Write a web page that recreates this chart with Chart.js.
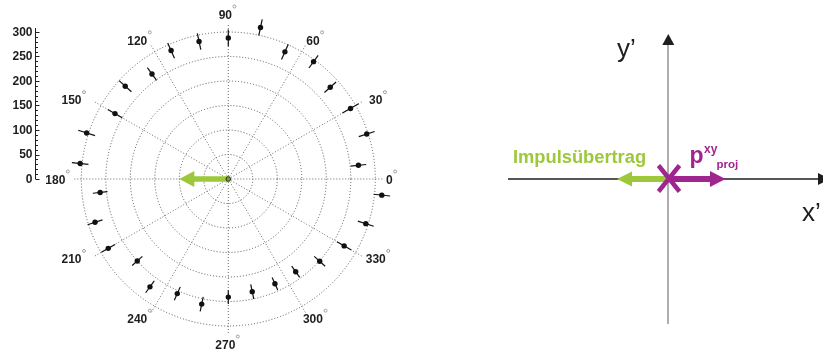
<!DOCTYPE html>
<html>
<head>
<meta charset="utf-8">
<script src="https://cdn.jsdelivr.net/npm/chart.js@4.4.1/dist/chart.umd.min.js"></script>
<style>
  html, body { margin: 0; padding: 0; background: #ffffff; }
  #wrap { position: relative; width: 823px; height: 351px; overflow: hidden; }
  #polar, #diagram { position: absolute; left: 0; top: 0; }
  #diagram { pointer-events: none; }
  #diagram text { font-family: "Liberation Sans", Arial, Helvetica, sans-serif; }
</style>
</head>
<body>
<div id="wrap">
  <canvas id="polar" width="823" height="351"></canvas>
  <svg id="diagram" width="823" height="351" viewBox="0 0 823 351" xmlns="http://www.w3.org/2000/svg">
    <!-- x' axis -->
    <line x1="508" y1="179" x2="819" y2="179" stroke="#1e1e1e" stroke-width="1.3"/>
    <polygon points="818,173 818,185 830,179" fill="#1e1e1e"/>
    <!-- y' axis -->
    <line x1="668" y1="44" x2="668" y2="324" stroke="#8c8c8c" stroke-width="1.4"/>
    <polygon points="668.3,34 662.3,45 674.3,45" fill="#1e1e1e"/>
    <text x="617" y="57" font-size="26" fill="#1e1e1e">y’</text>
    <text x="802" y="221" font-size="26" fill="#1e1e1e">x’</text>

    <!-- momentum transfer (green) -->
    <line x1="668" y1="179" x2="631" y2="179" stroke="#9cc83a" stroke-width="6"/>
    <polygon points="617,179 632,171.5 632,186.5" fill="#9cc83a"/>
    <!-- projected momentum (magenta) -->
    <line x1="668" y1="179" x2="711" y2="179" stroke="#a0268f" stroke-width="6"/>
    <polygon points="725.5,179 710,171 710,187" fill="#a0268f"/>
    <line x1="658.5" y1="165.5" x2="679.5" y2="191.5" stroke="#a0268f" stroke-width="4.5"/>
    <line x1="679.5" y1="165.5" x2="658.5" y2="191.5" stroke="#a0268f" stroke-width="4.5"/>

    <text x="513" y="163" font-size="18.3" font-weight="bold" fill="#9cc83a">Impulsübertrag</text>
    <text x="689.5" y="163" font-size="23" font-weight="bold" fill="#a0268f">p</text>
    <text x="704" y="152.5" font-size="12" font-weight="bold" fill="#a0268f">xy</text>
    <text x="716.5" y="168" font-size="11.5" font-weight="bold" fill="#a0268f">proj</text>
  </svg>
</div>
<script>
// Azimuthal distribution: bin centres (degrees), counts and statistical errors
const angles = [6, 18, 30, 42, 54, 66, 78, 90, 102, 114, 126, 138, 150, 162, 174,
                186, 198, 210, 222, 234, 246, 258, 270, 282, 294, 306, 318, 330, 342, 354];
const counts = [267, 297, 288, 280, 296, 284, 316, 288, 287, 287, 265, 283, 267, 304, 304,
                263, 286, 283, 250, 272, 256, 261, 241, 235, 234, 234, 251, 273, 295, 315];
const errors = [16, 17, 19, 16, 16, 17, 17, 17, 17, 17, 16, 17, 17, 18, 17,
                15, 16, 16, 14, 15, 15, 15, 14, 15, 14, 14, 15, 17, 17, 17];

// Polar grid: rings, spokes and the separate radial count axis
const ringValues = [50, 100, 150, 200, 250, 300];
const spokeAngles = [0, 30, 60, 90, 120, 150, 180, 210, 240, 270, 300, 330];
const radialTicks = [0, 50, 100, 150, 200, 250, 300];
const radialMinorStep = 10;

// Mean momentum transfer drawn as an arrow from the origin
const transferValue = 100;
const transferAngle = 180;

const DEG = Math.PI / 180;
const RMAX = 300;
const PX_PER_UNIT = 147 / RMAX;
const CX = 228.3, CY = 179;
const W = 823, H = 351;

const points = angles.map((a, i) => ({
  x: counts[i] * Math.cos(a * DEG),
  y: counts[i] * Math.sin(a * DEG)
}));

const polarFrame = {
  id: 'polarFrame',
  beforeDatasetsDraw(chart) {
    const { ctx, scales: { x, y } } = chart;
    const px = (r, a) => x.getPixelForValue(r * Math.cos(a * DEG));
    const py = (r, a) => y.getPixelForValue(r * Math.sin(a * DEG));
    const cx = x.getPixelForValue(0), cy = y.getPixelForValue(0);
    ctx.save();

    // dotted rings
    ctx.strokeStyle = '#555555';
    ctx.lineWidth = 1;
    ctx.setLineDash([1, 2]);
    ringValues.forEach(v => {
      const r = x.getPixelForValue(v) - cx;
      ctx.beginPath();
      ctx.arc(cx, cy, r, 0, 2 * Math.PI);
      ctx.stroke();
    });
    // dotted spokes, slightly beyond the outer ring
    ctx.strokeStyle = '#6a6a6a';
    spokeAngles.forEach(a => {
      ctx.beginPath();
      ctx.moveTo(cx, cy);
      ctx.lineTo(px(RMAX * 1.05, a), py(RMAX * 1.05, a));
      ctx.stroke();
    });
    ctx.setLineDash([]);

    // angle labels with a small degree ring
    ctx.font = 'bold 12px "Liberation Sans", Arial, sans-serif';
    ctx.fillStyle = '#1e1e1e';
    ctx.textAlign = 'center';
    ctx.textBaseline = 'middle';
    spokeAngles.forEach(a => {
      const c = Math.cos(a * DEG), s = Math.sin(a * DEG);
      const s2 = Math.abs(Math.sin(2 * a * DEG));
      const lx = cx + (167 + 10 * s2) * c - 3 - 3 * Math.pow(c, 4);
      const ly = cy - (s * (158.7 + 6.3 * Math.pow(s, 8)) - 1.5);
      const txt = String(a);
      ctx.fillText(txt, lx, ly);
      const w = ctx.measureText(txt).width;
      ctx.beginPath();
      ctx.strokeStyle = '#8a8a8a';
      ctx.lineWidth = 0.8;
      ctx.arc(lx + w / 2 + 2.5, ly - 9, 1.5, 0, 2 * Math.PI);
      ctx.stroke();
    });

    // radial count axis on the left
    const ax = 35.5;
    ctx.strokeStyle = '#1e1e1e';
    ctx.lineWidth = 1;
    ctx.beginPath();
    ctx.moveTo(ax, y.getPixelForValue(0));
    ctx.lineTo(ax, y.getPixelForValue(308));
    ctx.stroke();
    for (let v = 0; v <= RMAX; v += radialMinorStep) {
      const ty = Math.round(y.getPixelForValue(v)) + 0.5;
      const major = radialTicks.includes(v);
      ctx.beginPath();
      ctx.moveTo(ax, ty);
      ctx.lineTo(ax + (major ? 4 : 2.5), ty);
      ctx.stroke();
    }
    ctx.textAlign = 'right';
    radialTicks.forEach(v => {
      ctx.fillText(String(v), ax - 3, y.getPixelForValue(v) + 0.5);
    });

    // momentum-transfer arrow
    const tip = { x: px(transferValue, transferAngle), y: py(transferValue, transferAngle) };
    const headLen = 15, headHalf = 8, shaft = 5.5;
    const len = Math.hypot(tip.x - cx, tip.y - cy);
    const ux = (tip.x - cx) / len, uy = (tip.y - cy) / len;
    const bx = tip.x - ux * headLen, by = tip.y - uy * headLen;
    ctx.strokeStyle = '#9cc83a';
    ctx.lineWidth = shaft;
    ctx.beginPath();
    ctx.moveTo(cx, cy);
    ctx.lineTo(bx + ux, by + uy);
    ctx.stroke();
    ctx.fillStyle = '#9cc83a';
    ctx.beginPath();
    ctx.moveTo(tip.x, tip.y);
    ctx.lineTo(bx - uy * headHalf, by + ux * headHalf);
    ctx.lineTo(bx + uy * headHalf, by - ux * headHalf);
    ctx.closePath();
    ctx.fill();
    // origin marker
    ctx.beginPath();
    ctx.arc(cx, cy, 2.3, 0, 2 * Math.PI);
    ctx.fillStyle = '#7fa22e';
    ctx.fill();
    ctx.strokeStyle = '#1e1e1e';
    ctx.lineWidth = 0.9;
    ctx.stroke();

    // radial error bars
    ctx.strokeStyle = '#111111';
    ctx.lineWidth = 1.2;
    angles.forEach((a, i) => {
      const r0 = counts[i] - errors[i], r1 = counts[i] + errors[i];
      ctx.beginPath();
      ctx.moveTo(px(r0, a), py(r0, a));
      ctx.lineTo(px(r1, a), py(r1, a));
      ctx.stroke();
    });
    ctx.restore();
  }
};

new Chart(document.getElementById('polar'), {
  type: 'scatter',
  data: {
    datasets: [{
      label: 'Zählrate',
      data: points,
      pointRadius: 2.7,
      pointBackgroundColor: '#111111',
      pointBorderWidth: 0,
      showLine: false
    }]
  },
  options: {
    responsive: false,
    devicePixelRatio: 1,
    animation: false,
    layout: { padding: 0, autoPadding: false },
    plugins: { legend: { display: false }, tooltip: { enabled: false } },
    scales: {
      x: { type: 'linear', display: false, min: -CX / PX_PER_UNIT, max: (W - CX) / PX_PER_UNIT },
      y: { type: 'linear', display: false, min: -(H - CY) / PX_PER_UNIT, max: CY / PX_PER_UNIT }
    }
  },
  plugins: [polarFrame]
});
</script>
</body>
</html>
